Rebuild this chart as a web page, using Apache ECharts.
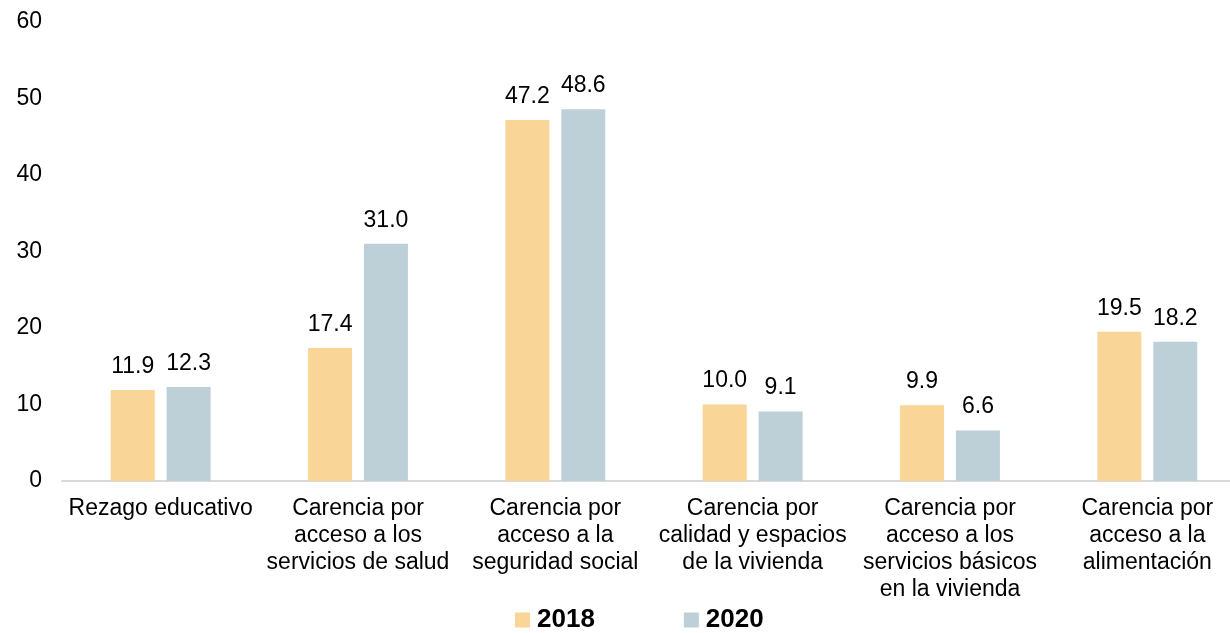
<!DOCTYPE html>
<html>
<head>
<meta charset="utf-8">
<script src="https://cdn.jsdelivr.net/npm/echarts@6/dist/echarts.min.js"></script>
<style>
html,body{margin:0;padding:0;background:#fff;}
#chart{width:1230px;height:633px;}
</style>
</head>
<body>
<div id="chart"></div>
<script>
var categories = [
    'Rezago educativo',
    'Carencia por\nacceso a los\nservicios de salud',
    'Carencia por\nacceso a la\nseguridad social',
    'Carencia por\ncalidad y espacios\nde la vivienda',
    'Carencia por\nacceso a los\nservicios básicos\nen la vivienda',
    'Carencia por\nacceso a la\nalimentación'
];
var data2018 = [11.9, 17.4, 47.2, 10.0, 9.9, 19.5];
var data2020 = [12.3, 31.0, 48.6, 9.1, 6.6, 18.2];

var chart = echarts.init(document.getElementById('chart'));

var font = 'Liberation Sans, Arial';

var labelStyle = {
    show: true,
    position: 'top',
    distance: 12,
    fontFamily: font,
    fontSize: 23,
    color: '#000',
    formatter: function (p) { return p.value.toFixed(1); }
};

var option = {
    animation: false,
    textStyle: {fontFamily: font},
    grid: {
        left: 62,
        right: -16,
        top: 22,
        bottom: 152,
        containLabel: false,
        outerBoundsMode: 'none'
    },
    legend: {
        bottom: -5,
        left: 510,
        itemWidth: 15,
        itemHeight: 15,
        itemGap: 89,
        icon: 'rect',
        textStyle: {fontSize: 26, fontWeight: 'bold', color: '#000', fontFamily: font, padding: [0, 0, 0, 2]},
        data: ['2018', '2020']
    },
    xAxis: {
        type: 'category',
        data: categories,
        axisLine: {lineStyle: {color: '#d9d9d9', width: 2}},
        axisTick: {show: false},
        axisLabel: {
            interval: 0,
            fontSize: 23,
            lineHeight: 27,
            color: '#000',
            margin: 14
        }
    },
    yAxis: {
        type: 'value',
        min: 0,
        max: 60,
        interval: 10,
        splitLine: {show: false},
        axisLine: {show: false},
        axisTick: {show: false},
        axisLabel: {fontSize: 23, color: '#000', margin: 20}
    },
    series: [
        {
            name: '2018',
            type: 'bar',
            data: data2018,
            barWidth: 44,
            barGap: '27%',
            itemStyle: {color: '#F9D597'},
            label: labelStyle
        },
        {
            name: '2020',
            type: 'bar',
            data: data2020,
            barWidth: 44,
            itemStyle: {color: '#BDCFD7'},
            label: labelStyle
        }
    ]
};

chart.setOption(option);
</script>
</body>
</html>
